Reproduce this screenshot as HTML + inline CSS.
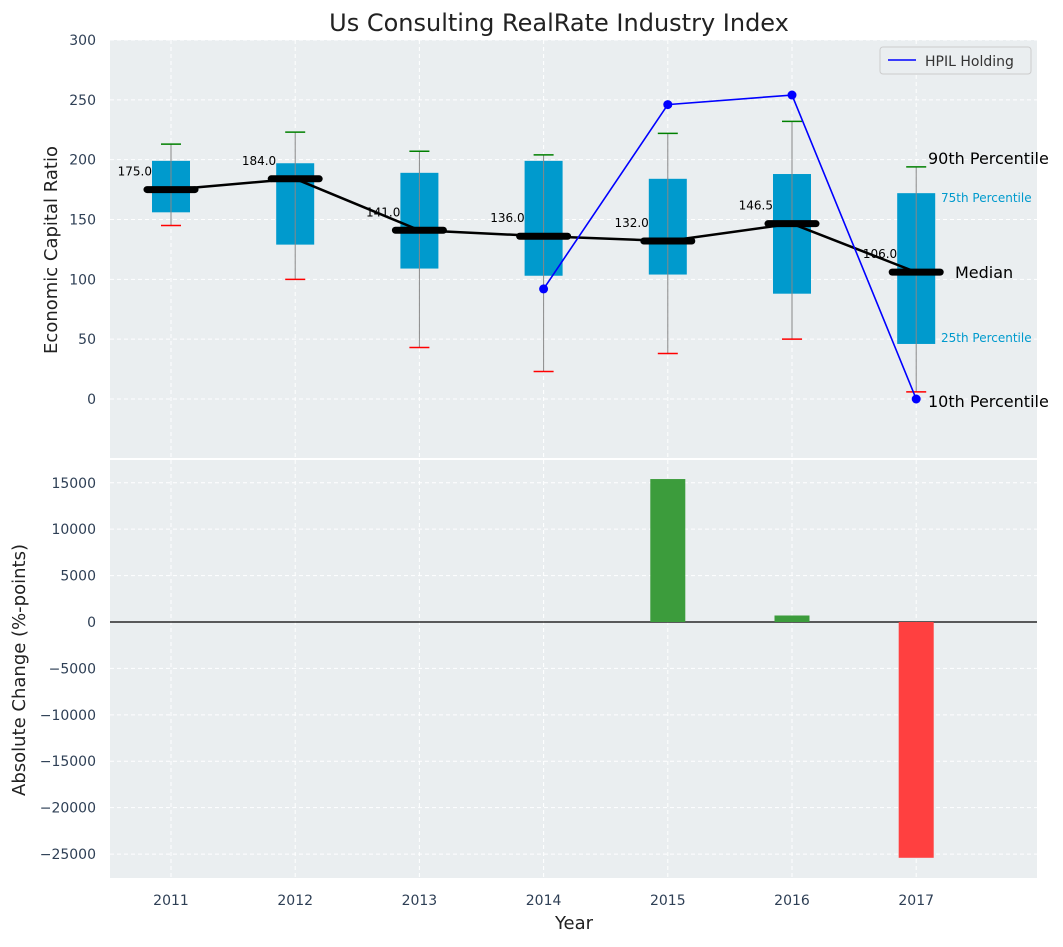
<!DOCTYPE html>
<html><head><meta charset="utf-8"><style>
body{margin:0;background:#fff;font-family:"Liberation Sans","DejaVu Sans",sans-serif}
svg text{font-family:"DejaVu Sans","Liberation Sans",sans-serif}
</style></head><body>
<svg id="c" width="1063" height="942"></svg>
<script>
const years=[2011,2012,2013,2014,2015,2016,2017];
const q25=[156,129,109,103,104,88,46];
const q75=[199,197,189,199,184,188,172];
const p10=[145,100,43,23,38,50,6];
const p90=[213,223,207,204,222,232,194];
const medians=[175,184,141,136,132,146.5,106];
const hpilYears=[2014,2015,2016,2017];
const hpilVals=[92,246,254,0];
const changeYears=[2015,2016,2017];
const changeVals=[15400,700,-25400];
const topTicks=[0,50,100,150,200,250,300];
const botTicks=[-25000,-20000,-15000,-10000,-5000,0,5000,10000,15000];

const NS='http://www.w3.org/2000/svg';
const svg=document.getElementById('c');
function el(t,a,p){const e=document.createElementNS(NS,t);for(const k in a)e.setAttribute(k,a[k]);(p||svg).appendChild(e);return e;}
const X=v=>171+(v-2011)*124.2;
const Yt=v=>399-v*1.1967;
const Yb=v=>622-v*0.009283;
const L=110,R=1037;

// backgrounds
let e=el('rect',{x:L,y:40,width:R-L,height:418,fill:'#eaeef0'});

e=el('rect',{x:L,y:460,width:R-L,height:418,fill:'#eaeef0'});


// grids
years.forEach(y=>{
 el('line',{x1:X(y),x2:X(y),y1:40,y2:458,stroke:'#fff','stroke-dasharray':'4,3'});
 el('line',{x1:X(y),x2:X(y),y1:460,y2:878,stroke:'#fff','stroke-dasharray':'4,3'});
 e=el('text',{x:X(y),y:905,'font-size':14,fill:'#2e3f55','text-anchor':'middle'});e.textContent=y;
 
});
topTicks.forEach(v=>{
 el('line',{x1:L,x2:R,y1:Yt(v),y2:Yt(v),stroke:'#fff','stroke-dasharray':'4,3'});
 e=el('text',{x:96,y:Yt(v)+5,'font-size':14,fill:'#2e3f55','text-anchor':'end'});e.textContent=v;
 
});
botTicks.forEach(v=>{
 el('line',{x1:L,x2:R,y1:Yb(v),y2:Yb(v),stroke:'#fff','stroke-dasharray':'4,3'});
 e=el('text',{x:96,y:Yb(v)+5,'font-size':14,fill:'#2e3f55','text-anchor':'end'});e.textContent=v<0?'\u2212'+(-v):v;
 
});

// boxes
years.forEach((y,i)=>{
 const x=X(y);
 e=el('rect',{x:x-19,y:Yt(q75[i]),width:38,height:Yt(q25[i])-Yt(q75[i]),fill:'#009acd'});
 
 el('line',{x1:x,x2:x,y1:Yt(p10[i]),y2:Yt(p90[i]),stroke:'#888','stroke-width':1});
 e=el('line',{x1:x-10,x2:x+10,y1:Yt(p90[i]),y2:Yt(p90[i]),stroke:'green','stroke-width':1.5});
 
 e=el('line',{x1:x-10,x2:x+10,y1:Yt(p10[i]),y2:Yt(p10[i]),stroke:'red','stroke-width':1.5});
 
});
// median line
e=el('polyline',{points:years.map((y,i)=>X(y)+','+Yt(medians[i])).join(' '),fill:'none',stroke:'#000','stroke-width':2.5});

years.forEach((y,i)=>{
 e=el('line',{x1:X(y)-24,x2:X(y)+24,y1:Yt(medians[i]),y2:Yt(medians[i]),stroke:'#000','stroke-width':7,'stroke-linecap':'round'});
 
 e=el('text',{x:X(y)-19,y:Yt(medians[i])-14,'font-size':12,'text-anchor':'end'});e.textContent=medians[i].toFixed(1);
 
});
// HPIL
e=el('polyline',{points:hpilYears.map((y,i)=>X(y)+','+Yt(hpilVals[i])).join(' '),fill:'none',stroke:'blue','stroke-width':1.6});

hpilYears.forEach((y,i)=>{e=el('circle',{cx:X(y),cy:Yt(hpilVals[i]),r:4.5,fill:'blue'});
 });

// annotations
[['90th Percentile',928,164,16,'#000'],['75th Percentile',941,202,12,'#009acd'],['Median',955,278,16,'#000'],['25th Percentile',941,342,12,'#009acd'],['10th Percentile',928,407,16,'#000']].forEach(a=>{
 e=el('text',{x:a[1],y:a[2],'font-size':a[3],fill:a[4]});e.textContent=a[0];
 
});

// legend
const g=el('g',{});
el('rect',{x:880,y:47,width:151,height:27,rx:3,fill:'#eaeef0',stroke:'#ccc'},g);
el('line',{x1:888,x2:916,y1:60,y2:60,stroke:'blue','stroke-width':1.6},g);
e=el('text',{x:925,y:66,'font-size':14,fill:'#333'},g);e.textContent='HPIL Holding';

// bars
el('line',{x1:L,x2:R,y1:Yb(0),y2:Yb(0),stroke:'#000','stroke-width':1.2});
changeYears.forEach((y,i)=>{
 const v=changeVals[i];
 e=el('rect',{x:X(y)-17.5,y:Math.min(Yb(0),Yb(v)),width:35,height:Math.abs(Yb(v)-Yb(0)),fill:v>=0?'#3c9c3c':'#ff4040'});
 
});

// titles
e=el('text',{x:559,y:31,'font-size':24,fill:'#222','text-anchor':'middle'});e.textContent='Us Consulting RealRate Industry Index';

e=el('text',{x:574,y:929,'font-size':18,fill:'#222','text-anchor':'middle'});e.textContent='Year';

e=el('text',{x:0,y:0,'font-size':18,fill:'#222','text-anchor':'middle',transform:'translate(57,250) rotate(-90)'});e.textContent='Economic Capital Ratio';

e=el('text',{x:0,y:0,'font-size':18,fill:'#222','text-anchor':'middle',transform:'translate(25,670) rotate(-90)'});e.textContent='Absolute Change (%-points)';

</script>
</body></html>
